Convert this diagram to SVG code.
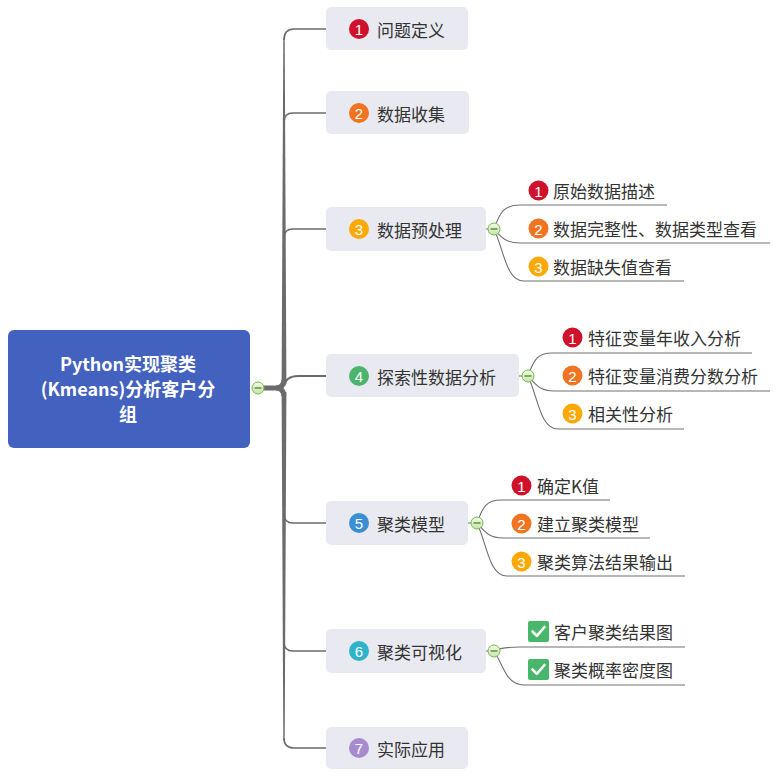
<svg xmlns="http://www.w3.org/2000/svg" width="779" height="779" viewBox="0 0 779 779">
<defs>
<style>
.box{fill:#E9EAF1}
.t{font-family:"Noto Sans CJK SC","Liberation Sans",sans-serif;font-size:17px;fill:#333;dominant-baseline:central}
.rt{font-family:"Noto Sans CJK SC","Liberation Sans",sans-serif;font-size:18px;font-weight:bold;fill:#fff;text-anchor:middle;dominant-baseline:central}
.n{font-family:"Liberation Sans","Noto Sans",sans-serif;font-size:15px;fill:#fff;text-anchor:middle;dominant-baseline:central}
.br{fill:none;stroke:#6b6b6b;stroke-width:1.6}
.sb{fill:none;stroke:#707070;stroke-width:1.1}
.col{fill:url(#g);stroke:#78b84e;stroke-width:1}
.minus{stroke:#3f7a25;stroke-width:1.2}
.chk{fill:none;stroke:#fff;stroke-width:2.6;stroke-linecap:round;stroke-linejoin:round}
</style>
<linearGradient id="g" x1="0" y1="0" x2="0" y2="1">
<stop offset="0" stop-color="#f2f9ea"/>
<stop offset="1" stop-color="#c5e6a6"/>
</linearGradient>
</defs>

<g id="connectors">
<path d="M281.6,384 L283.3,38 L284.7,38 L286.4,384 Z" fill="#6b6b6b"/>
<path d="M281.6,392 L283.3,740 L284.7,740 L286.4,392 Z" fill="#6b6b6b"/>
<path d="M262,388 H276 Q283.5,388 284,380" fill="none" stroke="#6b6b6b" stroke-width="5"/>
<path d="M276,388 Q283.5,388 284,396" fill="none" stroke="#6b6b6b" stroke-width="5"/>
<path class="br" d="M284,40 Q284,29 294,29 H326"/>
<path class="br" d="M284,122 Q284,113 293,113 H326"/>
<path class="br" d="M284,238 Q284,229 293,229 H326"/>
<path d="M284,386 Q286,376 298,376 H326" fill="none" stroke="#6b6b6b" stroke-width="2"/>
<path class="br" d="M284,514 Q284,523 293,523 H326"/>
<path class="br" d="M284,642 Q284,651 293,651 H326"/>
<path class="br" d="M284,738 Q284,748 294,748 H326"/>

<path class="sb" d="M486,229 H488"/>
<path class="sb" d="M494,229 C500,212 504,205 520,205 H667"/>
<path class="sb" d="M494,229 C502,238 506,243 520,243 H770"/>
<path class="sb" d="M494,229 C504,250 506,281 524,281 H684"/>

<path class="sb" d="M519,376 H522"/>
<path class="sb" d="M528,376 C534,359 538,353 552,353 H752"/>
<path class="sb" d="M528,376 C536,385 540,391 554,391 H770"/>
<path class="sb" d="M528,376 C538,397 540,429 558,429 H684"/>

<path class="sb" d="M468,523 H471"/>
<path class="sb" d="M477,523 C483,506 487,500 501,500 H610"/>
<path class="sb" d="M477,523 C485,532 489,538 503,538 H650"/>
<path class="sb" d="M477,523 C487,544 489,576 507,576 H685"/>

<path class="sb" d="M486,651 H488"/>
<path class="sb" d="M494,651 C500,648 506,647 520,647 H685"/>
<path class="sb" d="M494,651 C504,666 506,685 524,685 H685"/>
</g>

<g id="root">
<rect x="8" y="330" width="242" height="118" rx="6" fill="#4361BE"/>
<text class="rt" x="128" y="363">Python实现聚类</text>
<text class="rt" x="128" y="388">(Kmeans)分析客户分</text>
<text class="rt" x="128" y="413">组</text>
<circle class="col" cx="258" cy="388" r="6"/>
<line class="minus" x1="254.5" y1="388" x2="261.5" y2="388"/>
</g>

<g id="n1">
<rect class="box" x="326" y="7" width="142" height="43" rx="5"/>
<circle cx="359" cy="29" r="10" fill="#D0112B"/>
<text class="n" x="359" y="29.5">1</text>
<text class="t" x="377" y="29">问题定义</text>
</g>

<g id="n2">
<rect class="box" x="326" y="91" width="143" height="43" rx="5"/>
<circle cx="359" cy="113" r="10" fill="#F07422"/>
<text class="n" x="359" y="113.5">2</text>
<text class="t" x="377" y="113">数据收集</text>
</g>

<g id="n3">
<rect class="box" x="326" y="207" width="160" height="44" rx="5"/>
<circle cx="359" cy="229" r="10" fill="#FCA905"/>
<text class="n" x="359" y="229.5">3</text>
<text class="t" x="377" y="229">数据预处理</text>
<circle class="col" cx="494" cy="229" r="6"/>
<line class="minus" x1="490.5" y1="229" x2="497.5" y2="229"/>
</g>
<g id="n3-1">
<circle cx="538.5" cy="190.5" r="10" fill="#D0112B"/>
<text class="n" x="538.5" y="191">1</text>
<text class="t" x="553" y="190">原始数据描述</text>
</g>
<g id="n3-2">
<circle cx="538.5" cy="228.5" r="10" fill="#F07422"/>
<text class="n" x="538.5" y="229">2</text>
<text class="t" x="553" y="228">数据完整性、数据类型查看</text>
</g>
<g id="n3-3">
<circle cx="538.5" cy="266.5" r="10" fill="#FCA905"/>
<text class="n" x="538.5" y="267">3</text>
<text class="t" x="553" y="266">数据缺失值查看</text>
</g>

<g id="n4">
<rect class="box" x="326" y="354" width="193" height="43" rx="5"/>
<circle cx="359" cy="376" r="10" fill="#4DB46D"/>
<text class="n" x="359" y="376.5">4</text>
<text class="t" x="377" y="376">探索性数据分析</text>
<circle class="col" cx="528" cy="376" r="6"/>
<line class="minus" x1="524.5" y1="376" x2="531.5" y2="376"/>
</g>
<g id="n4-1">
<circle cx="572.5" cy="337.5" r="10" fill="#D0112B"/>
<text class="n" x="572.5" y="338">1</text>
<text class="t" x="588" y="337">特征变量年收入分析</text>
</g>
<g id="n4-2">
<circle cx="572.5" cy="375.5" r="10" fill="#F07422"/>
<text class="n" x="572.5" y="376">2</text>
<text class="t" x="588" y="375">特征变量消费分数分析</text>
</g>
<g id="n4-3">
<circle cx="572.5" cy="413.5" r="10" fill="#FCA905"/>
<text class="n" x="572.5" y="414">3</text>
<text class="t" x="588" y="413">相关性分析</text>
</g>

<g id="n5">
<rect class="box" x="326" y="501" width="142" height="44" rx="5"/>
<circle cx="359" cy="523" r="10" fill="#3A8FD4"/>
<text class="n" x="359" y="523.5">5</text>
<text class="t" x="377" y="523">聚类模型</text>
<circle class="col" cx="477" cy="523" r="6"/>
<line class="minus" x1="473.5" y1="523" x2="480.5" y2="523"/>
</g>
<g id="n5-1">
<circle cx="521.5" cy="485.5" r="10" fill="#D0112B"/>
<text class="n" x="521.5" y="486">1</text>
<text class="t" x="537" y="485">确定K值</text>
</g>
<g id="n5-2">
<circle cx="521.5" cy="523.5" r="10" fill="#F07422"/>
<text class="n" x="521.5" y="524">2</text>
<text class="t" x="537" y="523">建立聚类模型</text>
</g>
<g id="n5-3">
<circle cx="521.5" cy="561.5" r="10" fill="#FCA905"/>
<text class="n" x="521.5" y="562">3</text>
<text class="t" x="537" y="561">聚类算法结果输出</text>
</g>

<g id="n6">
<rect class="box" x="326" y="629" width="160" height="44" rx="5"/>
<circle cx="359" cy="651" r="10" fill="#2DB3CA"/>
<text class="n" x="359" y="651.5">6</text>
<text class="t" x="377" y="651">聚类可视化</text>
<circle class="col" cx="494" cy="651" r="6"/>
<line class="minus" x1="490.5" y1="651" x2="497.5" y2="651"/>
</g>
<g id="n6-1">
<rect x="528" y="621" width="21" height="21" rx="2" fill="#48B76C"/>
<path class="chk" d="M532.5,631.5 L536.8,635.8 L544.5,627"/>
<text class="t" x="554" y="631">客户聚类结果图</text>
</g>
<g id="n6-2">
<rect x="528" y="659" width="21" height="21" rx="2" fill="#48B76C"/>
<path class="chk" d="M532.5,669.5 L536.8,673.8 L544.5,665"/>
<text class="t" x="554" y="669">聚类概率密度图</text>
</g>

<g id="n7">
<rect class="box" x="326" y="727" width="142" height="42" rx="5"/>
<circle cx="359" cy="748" r="10" fill="#A88BCF"/>
<text class="n" x="359" y="748.5">7</text>
<text class="t" x="377" y="748">实际应用</text>
</g>
</svg>
